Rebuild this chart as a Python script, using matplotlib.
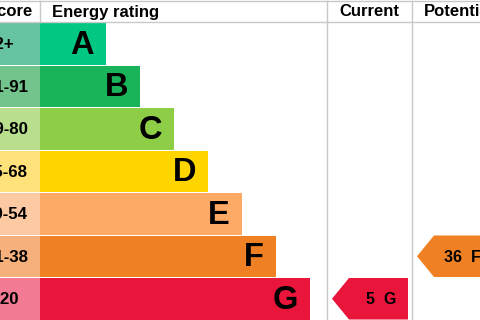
import matplotlib.pyplot as plt
from matplotlib.patches import Rectangle, Polygon

plt.rcParams['font.family'] = ['Liberation Sans', 'DejaVu Sans']

# chart data
ratings = ["A", "B", "C", "D", "E", "F", "G"]
score_labels = ["92+", "81-91", "69-80", "55-68", "39-54", "21-38", "1-20"]
band_colors = ["#00c781", "#19b459", "#8dce46", "#ffd500", "#fcaa65", "#ef8023", "#e9153b"]
score_colors = ["#66c4a0", "#72c48c", "#b8de8e", "#ffe27a", "#fdc9a2", "#f5b07c", "#f27a92"]
current_score = 5
current_rating = "G"
potential_score = 36
potential_rating = "F"

# layout in pixels
W, H = 480, 320
head_top, head_bot = 1, 22
row_h = 42.5
score_x0, band_x0 = -20, 40
band_w0, band_step = 66, 34
col1, col2 = 327, 412
arrow_w, arrow_tip = 76, 17
grid = "#c8c8c8"

fig = plt.figure(figsize=(4.8, 3.2), dpi=100)
ax = fig.add_axes([0, 0, 1, 1])
ax.set_xlim(0, W)
ax.set_ylim(H, 0)
ax.axis("off")

# header
ax.plot([0, W], [head_top, head_top], color=grid, lw=1)
ax.plot([0, W], [head_bot, head_bot], color=grid, lw=1)
ax.plot([band_x0, band_x0], [head_top, head_bot], color=grid, lw=1)
ax.plot([col1, col1], [head_top, H], color=grid, lw=1)
ax.plot([col2, col2], [head_top, H], color=grid, lw=1)
hy = (head_top + head_bot) / 2 + 0.5
ax.text(33, hy, "Score", ha="right", va="center", fontsize=12, fontweight="bold")
ax.text(52, hy, "Energy rating", ha="left", va="center", fontsize=12, fontweight="bold")
ax.text((col1 + col2) / 2, hy, "Current", ha="center", va="center", fontsize=12, fontweight="bold")
ax.text(col2 + 12, hy, "Potential", ha="left", va="center", fontsize=12, fontweight="bold")

# bands
for i, (r, s) in enumerate(zip(ratings, score_labels)):
    top = head_bot + 1 + i * row_h
    h = row_h - 1
    ax.add_patch(Rectangle((score_x0, top), band_x0 - score_x0, h, color=score_colors[i], lw=0))
    bw = band_w0 + band_step * i
    ax.add_patch(Rectangle((band_x0, top), bw, h, color=band_colors[i], lw=0))
    ax.text(-15, top + h / 2 + 1, s, ha="left", va="center", fontsize=12.2, fontweight="bold")
    ax.text(band_x0 + bw - 12, top + h / 2 + 1.5, r, ha="right", va="center",
            fontsize=23.5, fontweight="bold")


def arrow(x_tip, rating, label):
    i = ratings.index(rating)
    top = head_bot + 1 + i * row_h
    h = row_h - 1
    x1 = x_tip + arrow_w
    pts = [(x_tip, top + h / 2), (x_tip + arrow_tip, top), (x1, top),
           (x1, top + h), (x_tip + arrow_tip, top + h)]
    ax.add_patch(Polygon(pts, closed=True, color=band_colors[i], lw=0))
    ax.text(x1 - 12, top + h / 2 + 1, label, ha="right", va="center",
            fontsize=11.5, fontweight="bold")


arrow(col1 + 5, current_rating, f"{current_score}  {current_rating}")
arrow(col2 + 5, potential_rating, f"{potential_score}  {potential_rating}")

fig.savefig("out.png", dpi=100)
